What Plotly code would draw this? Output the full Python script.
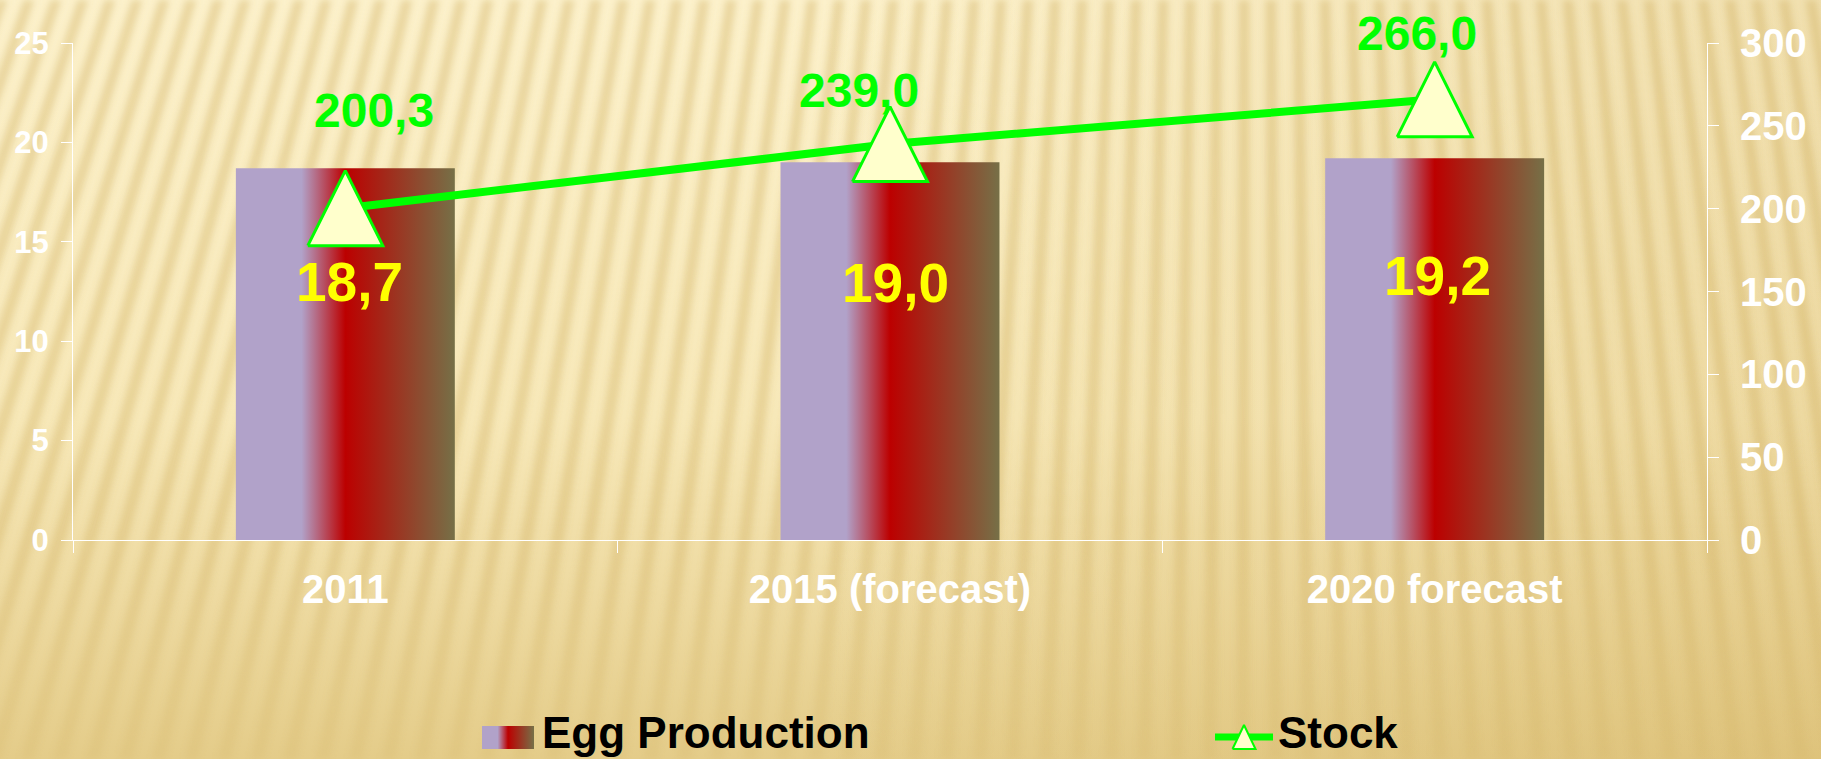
import base64
import numpy as np
import plotly.graph_objects as go

# ---- data -------------------------------------------------------------
categories = ["2011", "2015 (forecast)", "2020 forecast"]
egg_production = [18.7, 19.0, 19.2]          # left axis
stock = [200.3, 239.0, 266.0]                # right axis
left_ticks = [0, 5, 10, 15, 20, 25]
right_ticks = [0, 50, 100, 150, 200, 250, 300]

# ---- layout constants (pixels) ----------------------------------------
W, H = 1821, 759
PLOT_L, PLOT_R, PLOT_T, PLOT_B = 73, 1707, 43, 540
BAR_HALF = 0.201
FONT = "Liberation Sans, Arial, sans-serif"
LEFT_MAX, RIGHT_MAX = 25, 300
TRI_HALF_PX = 37.5        # half width / half height of the stock markers

# label nudges (px, x right / y up)
stock_label_dx = [29, -31, -18]
stock_label_dy = [98, 54, 66]
bar_label_dx = [4, 5, 3]
bar_label_dy = [-114, -121, -118]


def comma(v):
    return f"{v:.1f}".replace(".", ",")


# ---- background: warm paper with fanning soft stripes ------------------
def background_svg():
    fx, fy = 1250.0, -3500.0
    k = (H - fy) / (0 - fy)
    polys = []
    for x0 in np.arange(-700.0, 2500.0, 27.0):
        xb = fx + (x0 - fx) * k
        w0, wb = 11.0, 11.0 * k
        pts = (f"{x0 - w0 / 2:.1f},0 {x0 + w0 / 2:.1f},0 "
               f"{xb + wb / 2:.1f},{H} {xb - wb / 2:.1f},{H}")
        polys.append(f'<polygon points="{pts}"/>')
    svg = f'''<svg xmlns="http://www.w3.org/2000/svg" width="{W}" height="{H}" viewBox="0 0 {W} {H}">
<defs>
 <linearGradient id="base" x1="0" y1="0" x2="0" y2="1">
  <stop offset="0" stop-color="#FCF1CB"/>
  <stop offset="0.55" stop-color="#F7E8B8"/>
  <stop offset="0.8" stop-color="#EDD99F"/>
  <stop offset="1" stop-color="#E4CC89"/>
 </linearGradient>
 <linearGradient id="side" x1="0" y1="0" x2="1" y2="0">
  <stop offset="0.45" stop-color="#C9A24A" stop-opacity="0"/>
  <stop offset="1" stop-color="#C9A24A" stop-opacity="0.22"/>
 </linearGradient>
 <linearGradient id="fade" x1="0" y1="0" x2="0" y2="1">
  <stop offset="0" stop-color="#fff" stop-opacity="1"/>
  <stop offset="0.7" stop-color="#fff" stop-opacity="0.9"/>
  <stop offset="0.9" stop-color="#fff" stop-opacity="0.55"/>
  <stop offset="1" stop-color="#fff" stop-opacity="0.4"/>
 </linearGradient>
 <mask id="m"><rect width="{W}" height="{H}" fill="url(#fade)"/></mask>
 <filter id="soft" x="-10%" y="-10%" width="120%" height="120%"><feGaussianBlur stdDeviation="3.2"/></filter>
</defs>
<rect width="{W}" height="{H}" fill="url(#base)"/>
<rect width="{W}" height="{H}" fill="url(#side)"/>
<g mask="url(#m)"><g filter="url(#soft)" fill="#CDAA55" fill-opacity="0.36">{''.join(polys)}</g></g>
</svg>'''
    return "data:image/svg+xml;base64," + base64.b64encode(svg.encode()).decode()


bar_scale = [[0.0, "#B1A2C9"], [0.3, "#B1A2C9"], [0.5, "#BC0000"], [1.0, "#767047"]]

fig = go.Figure()

# ---- Egg Production bars (gradient filled) -----------------------------
for i, v in enumerate(egg_production):
    fig.add_trace(go.Scatter(
        x=[i - BAR_HALF, i - BAR_HALF, i + BAR_HALF, i + BAR_HALF],
        y=[0, v, v, 0],
        fill="toself", mode="none",
        fillgradient=dict(type="horizontal", colorscale=bar_scale),
        hoverinfo="skip", showlegend=False, xaxis="x", yaxis="y",
    ))

# ---- Stock line --------------------------------------------------------
xs = list(range(len(categories)))
fig.add_trace(go.Scatter(
    x=xs, y=stock, mode="lines",
    line=dict(color="#00FF00", width=8),
    showlegend=False, xaxis="x", yaxis="y2", cliponaxis=False,
    name="Stock",
))

# triangular markers centred on each stock value (pixel size -> axis units)
dx = TRI_HALF_PX / ((PLOT_R - PLOT_L) / len(categories))
dy = TRI_HALF_PX / ((PLOT_B - PLOT_T) / RIGHT_MAX)
tri_x, tri_y = [], []
for xi, yi in zip(xs, stock):
    tri_x += [xi - dx, xi, xi + dx, xi - dx, None]
    tri_y += [yi - dy, yi + dy, yi - dy, yi - dy, None]
fig.add_trace(go.Scatter(
    x=tri_x, y=tri_y, mode="lines", fill="toself", fillcolor="#FFFFCC",
    line=dict(color="#00FF00", width=3),
    hoverinfo="skip", showlegend=False, xaxis="x", yaxis="y2", cliponaxis=False,
))

# ---- legend (drawn on a pixel-unit helper axis at the bottom) ----------
LEG_H = 76
fig.add_trace(go.Scatter(
    x=[482, 482, 534, 534], y=[10, 33, 33, 10],
    fill="toself", mode="none",
    fillgradient=dict(type="horizontal", colorscale=bar_scale),
    hoverinfo="skip", showlegend=False, xaxis="x3", yaxis="y3",
))
fig.add_trace(go.Scatter(
    x=[1215, 1273], y=[22, 22], mode="lines",
    line=dict(color="#00FF00", width=7),
    hoverinfo="skip", showlegend=False, xaxis="x3", yaxis="y3", cliponaxis=False,
))
fig.add_trace(go.Scatter(
    x=[1232.5, 1244, 1255.5, 1232.5], y=[10, 34, 10, 10],
    mode="lines", fill="toself", fillcolor="#FFFFCC",
    line=dict(color="#00FF00", width=2),
    hoverinfo="skip", showlegend=False, xaxis="x3", yaxis="y3", cliponaxis=False,
))

annotations = []
for txt, x0 in (("Egg Production", 540), ("Stock", 1276)):
    annotations.append(dict(
        x=x0, y=27, xref="x3", yref="y3", text=txt, showarrow=False,
        xanchor="left", yanchor="middle",
        font=dict(family=FONT, size=44, color="black", weight="bold"),
    ))

# value labels
for i, v in enumerate(egg_production):
    annotations.append(dict(
        x=i, y=v, xref="x", yref="y", text=comma(v), showarrow=False,
        xanchor="center", yanchor="middle",
        xshift=bar_label_dx[i], yshift=bar_label_dy[i],
        font=dict(family=FONT, size=55, color="#FFFF00", weight="bold"),
    ))
for i, v in enumerate(stock):
    annotations.append(dict(
        x=i, y=v, xref="x", yref="y2", text=comma(v), showarrow=False,
        xanchor="center", yanchor="middle",
        xshift=stock_label_dx[i], yshift=stock_label_dy[i],
        font=dict(family=FONT, size=48, color="#00FF00", weight="bold"),
    ))

fig.update_layout(
    template="none",
    width=W, height=H,
    margin=dict(l=0, r=0, t=0, b=0),
    paper_bgcolor="#F5E6B5",
    plot_bgcolor="rgba(0,0,0,0)",
    font=dict(family=FONT),
    showlegend=False,
    images=[dict(source=background_svg(), xref="paper", yref="paper",
                 x=0, y=1, sizex=1, sizey=1, xanchor="left", yanchor="top",
                 sizing="stretch", layer="below")],
    xaxis=dict(
        domain=[PLOT_L / W, PLOT_R / W], range=[-0.5, len(categories) - 0.5],
        tickvals=xs, ticktext=categories,
        ticks="", showgrid=False, zeroline=False,
        showline=True, linecolor="white", linewidth=1,
        tickfont=dict(family=FONT, size=40, color="white", weight="bold"),
        ticklabelstandoff=14,
        minor=dict(tickvals=[-0.5, 0.5, 1.5, 2.5], ticks="outside", ticklen=12,
                   tickcolor="white", tickwidth=1, showgrid=False),
        automargin=False, anchor="y", fixedrange=True,
    ),
    yaxis=dict(
        domain=[(H - PLOT_B) / H, (H - PLOT_T) / H], range=[0, LEFT_MAX],
        tickvals=left_ticks, ticks="outside", ticklen=11, tickcolor="white",
        showline=True, linecolor="white", linewidth=1,
        showgrid=False, zeroline=False,
        tickfont=dict(family=FONT, size=31, color="white", weight="bold"),
        ticklabelstandoff=6, automargin=False, anchor="x", fixedrange=True,
    ),
    yaxis2=dict(
        overlaying="y", side="right", range=[0, RIGHT_MAX],
        tickvals=right_ticks, ticks="outside", ticklen=11, tickcolor="white",
        showline=True, linecolor="white", linewidth=1,
        showgrid=False, zeroline=False,
        tickfont=dict(family=FONT, size=40, color="white", weight="bold"),
        ticklabelstandoff=13, automargin=False, anchor="x", fixedrange=True,
    ),
    xaxis3=dict(domain=[0, 1], range=[0, W], visible=False, anchor="y3", fixedrange=True),
    yaxis3=dict(domain=[0, LEG_H / H], range=[0, LEG_H], visible=False, anchor="x3", fixedrange=True),
    annotations=annotations,
)

fig.write_html("out.html")
